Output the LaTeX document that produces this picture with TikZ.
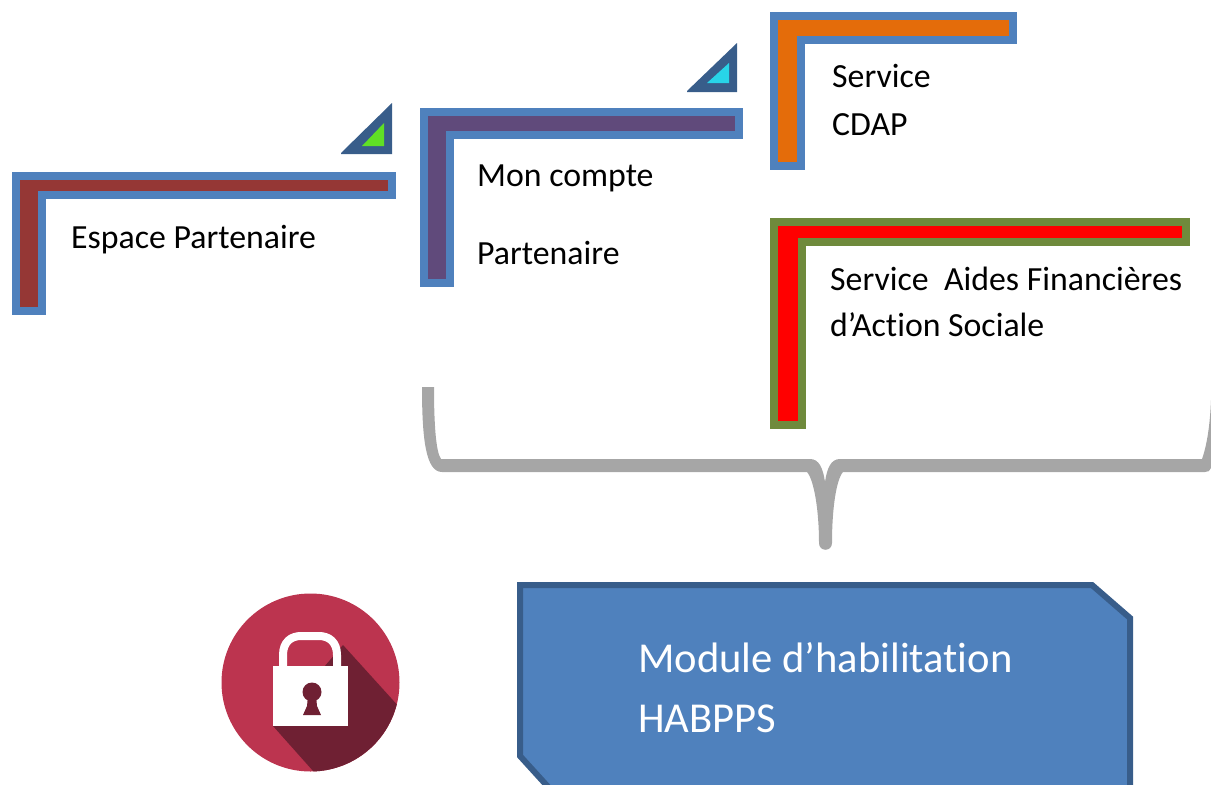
\documentclass[tikz,border=0pt]{standalone}
\usepackage{fontspec}
\setmainfont[Ligatures=NoCommon]{Carlito}
\usepackage{tikz}

\definecolor{bordblue}{HTML}{4F81BD}
\definecolor{darkblue}{HTML}{385D8A}
\definecolor{bordolive}{HTML}{6F8A3C}
\definecolor{barbrown}{HTML}{953735}
\definecolor{barpurple}{HTML}{604A7B}
\definecolor{barorange}{HTML}{E46C0A}
\definecolor{trigreen}{HTML}{60E025}
\definecolor{tricyan}{HTML}{28D4E8}
\definecolor{braceg}{HTML}{A6A6A6}
\definecolor{lockred}{HTML}{BC344F}
\definecolor{lockdark}{HTML}{6F2033}

\tikzset{
    frame/.style={draw=bordblue, line width=8pt, miter limit=10},
    label/.style={anchor=base west, inner sep=0pt, align=left, text=black,
        font=\fontsize{33.8}{33.8}\selectfont},
    biglabel/.style={anchor=base west, inner sep=0pt, align=left, text=white,
        font=\fontsize{42.6}{42.6}\selectfont}
}

\begin{document}
\begin{tikzpicture}[x=1pt, y=-1pt]
    \useasboundingbox (0,0) rectangle (1211,785);

    % half frames
    \draw[frame, fill=barbrown] (16,176) -- (392,176) -- (392,195) -- (42,195) -- (42,311) -- (16,311) -- cycle;
    \draw[frame, fill=barpurple] (424,112) -- (739,112) -- (739,135) -- (450,135) -- (450,283) -- (424,283) -- cycle;
    \draw[frame, fill=barorange] (774,16) -- (1013,16) -- (1013,40) -- (801,40) -- (801,166) -- (774,166) -- cycle;
    \draw[frame, draw=bordolive, fill=red] (774,222) -- (1186,222) -- (1186,242) -- (802,242) -- (802,425) -- (774,425) -- cycle;

    % corner triangles
    \fill[darkblue] (341,153) -- (392,103) -- (392,154) -- (341,154) -- cycle;
    \fill[trigreen] (362,146) -- (384,123) -- (384,146) -- cycle;
    \fill[darkblue] (687,91) -- (737,43) -- (737,92) -- (687,92) -- cycle;
    \fill[tricyan] (707,83) -- (729,63) -- (729,83) -- cycle;

    % brace
    \fill[braceg] (422,387) -- (434,387) .. controls (434,425) and (436,452) .. (441,459)
        -- (810,459) .. controls (819,459) and (823,468) .. (825,482)
        .. controls (827,468) and (831,459) .. (840,459)
        -- (1202,459) .. controls (1207,445) and (1210,425) .. (1211,400)
        -- (1211,468) .. controls (1210,471) and (1208,472) .. (1205,472)
        -- (843,472) .. controls (836,480) and (832,510) .. (832,543)
        .. controls (832,552) and (819,552) .. (819,543)
        .. controls (819,510) and (814,480) .. (807,472)
        -- (442,472) .. controls (426,472) and (422,440) .. cycle;

    % module box
    \draw[draw=darkblue, fill=bordblue, line width=6pt, miter limit=10] (520,585) -- (1092,585) -- (1130,618)
        -- (1130,800) -- (560,800) -- (520,756) -- cycle;

    % lock
    \fill[lockred] (310.5,682.5) circle (89);
    \begin{scope}
        \clip (310.5,682.5) circle (89);
        \fill[lockdark] (273,726) -- (343,645) -- (420,730) -- (330,790) -- cycle;
    \end{scope}
    \draw[white, line width=8pt] (283,670) -- (283,655) .. controls (283,642) and (291,636) .. (301,636)
        -- (319,636) .. controls (329,636) and (337,642) .. (337,655) -- (337,670);
    \fill[white] (273,666) rectangle (348,726);
    \fill[lockdark] (312,692) circle (9.5);
    \fill[lockdark] (308,696) -- (316,696) -- (317,706) -- (321,715) -- (303,715) -- (307,706) -- cycle;

    % texts
    \node[label] (espace) at (71,248) {Espace Partenaire};
    \node[label] (compte) at (477,264) {Mon compte\\[44pt]Partenaire};
    \node[label] (cdap) at (832,135) {Service\\[14pt]CDAP};
    \node[label] (aides) at (830,336) {Service~~Aides Financières\\[12pt]d’Action Sociale};
    \node[biglabel] (module) at (638,732) {Module d’habilitation\\[17pt]HABPPS};
\end{tikzpicture}
\end{document}
